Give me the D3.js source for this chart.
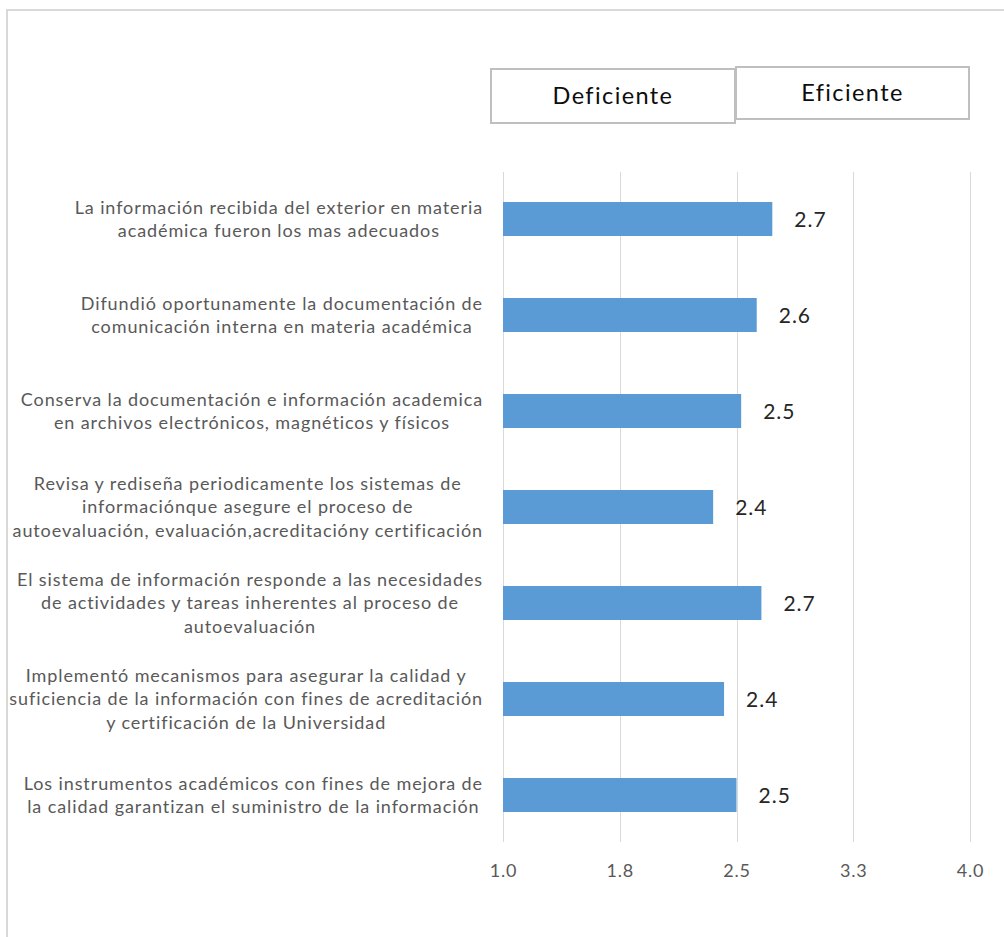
<!DOCTYPE html>
<html>
<head>
<meta charset="utf-8">
<script src="https://cdn.jsdelivr.net/npm/d3@7"></script>
<style>
  html, body { margin: 0; padding: 0; background: #fff; }
  svg { display: block; }
  text { font-family: Lato, "Open Sans", sans-serif; }
</style>
</head>
<body>
<div id="chart"></div>
<script>
// Survey items (lines as wrapped in the category axis)
const categories = [
  "La información recibida del exterior en materia\nacadémica fueron los mas adecuados",
  "Difundió oportunamente la documentación de\ncomunicación interna en materia académica",
  "Conserva la documentación e información academica\nen archivos electrónicos, magnéticos y físicos",
  "Revisa y rediseña periodicamente los sistemas de\ninformaciónque asegure el proceso de\nautoevaluación, evaluación,acreditacióny certificación",
  "El sistema de información responde a las necesidades\nde actividades y tareas inherentes al proceso de\nautoevaluación",
  "Implementó mecanismos para asegurar la calidad y\nsuficiencia de la información con fines de acreditación\ny certificación de la Universidad",
  "Los instrumentos académicos con fines de mejora de\nla calidad garantizan el suministro de la información"
];
// Mean score per item
const scores = [2.73, 2.63, 2.53, 2.35, 2.66, 2.42, 2.50];
// Value axis ticks
const tickValues = [1.0, 1.75, 2.5, 3.25, 4.0];
const tickLabels = ["1.0", "1.8", "2.5", "3.3", "4.0"];
// Legend boxes
const legendLabels = ["Deficiente", "Eficiente"];

const W = 1004, H = 937;
const svg = d3.select("#chart").append("svg").attr("width", W).attr("height", H);

// chart frame
svg.append("path")
  .attr("d", `M7,${H} L7,10 L${W},10`)
  .attr("fill", "none").attr("stroke", "#d9d9d9").attr("stroke-width", 2);

const plot = { left: 503, right: 970, top: 172, bottom: 842 };

const x = d3.scaleLinear().domain([1, 4]).range([plot.left, plot.right]);
const y = d3.scaleBand().domain(categories).range([plot.top, plot.bottom])
  .paddingInner(0.646).paddingOuter(0.3125);

// vertical gridlines
svg.append("g").selectAll("line").data(tickValues).join("line")
  .attr("x1", d => Math.round(x(d)) + 0.5).attr("x2", d => Math.round(x(d)) + 0.5)
  .attr("y1", plot.top).attr("y2", plot.bottom)
  .attr("stroke", "#d9d9d9").attr("stroke-width", 1);

// value axis labels
const xAxis = d3.axisBottom(x).tickValues(tickValues)
  .tickFormat((d, i) => tickLabels[i]).tickSize(0).tickPadding(0);
const gx = svg.append("g").attr("transform", `translate(0,${plot.bottom + 22})`).call(xAxis);
gx.select(".domain").remove();
gx.selectAll("text").attr("fill", "#595959").attr("font-size", 18).attr("dy", "0.71em")
  .style("letter-spacing", "0.8px")
  .style("font-family", "Lato, sans-serif");

// bars
svg.append("g").selectAll("rect").data(scores).join("rect")
  .attr("x", x(1))
  .attr("y", (d, i) => y(categories[i]))
  .attr("width", d => x(d) - x(1))
  .attr("height", y.bandwidth())
  .attr("fill", "#5b9bd5");

// value labels
const fmt = d3.format(".1f");
svg.append("g").selectAll("text").data(scores).join("text")
  .attr("x", d => x(d) + 22)
  .attr("y", (d, i) => y(categories[i]) + y.bandwidth() / 2)
  .attr("dy", "0.36em")
  .attr("font-size", 21).attr("fill", "#262626")
  .style("letter-spacing", "1px")
  .text(d => fmt(d));

// category labels: lines centred within a block that is right-aligned to the axis
const lineH = 23.5;
const labelRight = 483;
categories.forEach(cat => {
  const lines = cat.split("\n");
  const cy = y(cat) + y.bandwidth() / 2;
  const g = svg.append("g");
  const texts = lines.map((ln, j) => g.append("text")
    .attr("y", cy + (j - (lines.length - 1) / 2) * lineH)
    .attr("dy", "0.35em")
    .attr("font-size", 18).attr("fill", "#595959")
    .style("letter-spacing", "0.9px")
    .attr("text-anchor", "middle")
    .text(ln));
  const maxW = d3.max(texts, t => t.node().getComputedTextLength());
  texts.forEach(t => t.attr("x", labelRight - maxW / 2));
});

// legend boxes
const legendBoxes = [
  { x0: 491, x1: 735, y0: 69, y1: 123 },
  { x0: 736, x1: 969, y0: 67, y1: 119 }
];
legendLabels.forEach((lab, i) => {
  const b = legendBoxes[i];
  svg.append("rect").attr("x", b.x0).attr("y", b.y0)
    .attr("width", b.x1 - b.x0).attr("height", b.y1 - b.y0)
    .attr("fill", "#fff").attr("stroke", "#bfbfbf").attr("stroke-width", 2);
  svg.append("text").attr("x", (b.x0 + b.x1) / 2).attr("y", (b.y0 + b.y1) / 2)
    .attr("dy", "0.36em").attr("text-anchor", "middle")
    .attr("font-size", 23.5).attr("fill", "#0d0d0d")
    .style("letter-spacing", "1.4px")
    .text(lab);
});
</script>
</body>
</html>
